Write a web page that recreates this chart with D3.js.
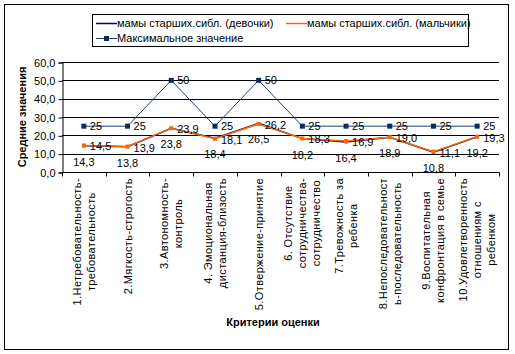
<!doctype html>
<html>
<head>
<meta charset="utf-8">
<style>
    body { margin: 0; background: #fff; }
    svg text { font-family: "Liberation Sans", Arial, sans-serif; font-size: 11px; fill: #000; }
</style>
<script src="https://cdn.jsdelivr.net/npm/d3@7/dist/d3.min.js"></script>
</head>
<body>
<svg width="515" height="354"></svg>
<script>

    // data
    var categories = [
        ["1.Нетребовательность-", "требовательность"],
        ["2.Мягкость-строгость"],
        ["3.Автономность-", "контроль"],
        ["4. Эмоциональная", "дистанция-близость"],
        ["5.Отвержение-принятие"],
        ["6. Отсутствие", "сотрудничества-", "сотрудничество"],
        ["7.Тревожность за", "ребенка"],
        ["8.Непоследовательност", "ь-последовательность"],
        ["9.Воспитательная", "конфронтация в семье"],
        ["10.Удовлетворенность", "отношениям с", "ребенком"]
    ];
    var girls = [14.3, 13.8, 23.8, 18.4, 26.5, 18.2, 16.4, 18.9, 10.8, 19.2];
    var boys  = [14.5, 13.9, 23.9, 18.1, 26.2, 18.3, 16.9, 19.0, 11.1, 19.3];
    var maxVals = [25, 25, 50, 25, 50, 25, 25, 25, 25, 25];
    var yTicks = [0, 10, 20, 30, 40, 50, 60];
    var seriesNames = ["мамы старших.сибл. (девочки)", "мамы старших.сибл. (мальчики)", "Максимальное значение"];

    var svg = d3.select("svg");
    var navy = "#000080", orange = "#FF6600", maxCol = "#1F3D6E";

    // chart border
    svg.append("rect")
       .attr("x", 4.5).attr("y", 4.5)
       .attr("width", 504).attr("height", 345)
       .attr("fill", "#fff").attr("stroke", "#000");

    var idx = d3.range(categories.length);
    var x = d3.scaleBand().domain(idx).range([62, 499]);
    var y = d3.scaleLinear().domain([0, 60]).range([172, 62]);
    var cx = function(i) { return x(i) + x.bandwidth() / 2; };
    var fmt = function(v) { return v.toFixed(1).replace(".", ","); };

    // gridlines
    svg.append("g").selectAll("line")
       .data(yTicks.slice(1))
       .enter().append("line")
       .attr("x1", 62).attr("x2", 499)
       .attr("y1", function(d) { return Math.round(y(d)) + 0.5; })
       .attr("y2", function(d) { return Math.round(y(d)) + 0.5; })
       .attr("stroke", "#000");

    // y axis
    var yAxis = svg.append("g")
       .attr("transform", "translate(62.5,0.5)")
       .call(d3.axisLeft(y).tickValues(yTicks).tickSize(4).tickPadding(3).tickFormat(fmt));
    yAxis.select(".domain").attr("stroke", "#000");
    yAxis.selectAll("text").style("font-size", "11px").attr("font-family", null);

    // x axis
    var xAxis = svg.append("g").attr("transform", "translate(0,172.5)");
    xAxis.append("line").attr("x1", 62).attr("x2", 499.5).attr("stroke", "#000");
    xAxis.selectAll(".tk")
       .data(d3.range(categories.length + 1))
       .enter().append("line")
       .attr("x1", function(i) { return Math.round(62 + i * x.bandwidth()) + 0.5; })
       .attr("x2", function(i) { return Math.round(62 + i * x.bandwidth()) + 0.5; })
       .attr("y1", 0).attr("y2", 4)
       .attr("stroke", "#000");

    // category labels, rotated, lines centered, block top aligned
    var lineGap = 14;
    categories.forEach(function(lines, i) {
        var g = svg.append("g");
        var texts = lines.map(function(t, k) {
            return g.append("text")
                    .attr("text-anchor", "middle")
                    .attr("dominant-baseline", "central")
                    .style("letter-spacing", "0.4px")
                    .text(t);
        });
        var maxLen = d3.max(texts, function(t) { return t.node().getComputedTextLength(); });
        var cy = 178 + maxLen / 2;
        texts.forEach(function(t, k) {
            var lx = cx(i) + (k - (lines.length - 1) / 2) * lineGap;
            t.attr("transform", "translate(" + lx + "," + cy + ") rotate(-90)");
        });
    });

    // axis titles
    svg.append("text")
       .attr("transform", "translate(22,117) rotate(-90)")
       .attr("text-anchor", "middle")
       .attr("dominant-baseline", "central")
       .style("font-weight", "bold")
       .text("Средние значения");

    svg.append("text")
       .attr("x", 273).attr("y", 326)
       .attr("text-anchor", "middle")
       .style("font-weight", "bold")
       .text("Критерии оценки");

    // lines
    var line = d3.line()
        .x(function(d, i) { return cx(i); })
        .y(function(d) { return y(d); });

    function drawSeries(vals, color, width, msize, mcolor) {
        svg.append("path")
           .datum(vals)
           .attr("d", line)
           .attr("fill", "none")
           .attr("stroke", color)
           .attr("stroke-width", width);
        svg.append("g").selectAll("rect")
           .data(vals)
           .enter().append("rect")
           .attr("x", function(d, i) { return cx(i) - msize / 2; })
           .attr("y", function(d) { return y(d) - msize / 2; })
           .attr("width", msize).attr("height", msize)
           .attr("fill", mcolor);
    }

    drawSeries(girls, navy, 1.5, 3, navy);
    drawSeries(boys, orange, 1.5, 4, orange);
    drawSeries(maxVals, maxCol, 1, 5, "#0F2B5B");

    // data labels
    svg.append("g").selectAll("text")
       .data(girls)
       .enter().append("text")
       .attr("x", function(d, i) { return cx(i); })
       .attr("y", function(d) { return y(d) + 20; })
       .attr("text-anchor", "middle")
       .text(fmt);

    svg.append("g").selectAll("text")
       .data(boys)
       .enter().append("text")
       .attr("x", function(d, i) { return cx(i) + 6; })
       .attr("y", function(d) { return y(d) + 1; })
       .attr("dominant-baseline", "central")
       .text(fmt);

    svg.append("g").selectAll("text")
       .data(maxVals)
       .enter().append("text")
       .attr("x", function(d, i) { return cx(i) + 6; })
       .attr("y", function(d) { return y(d) - 0.5; })
       .attr("dominant-baseline", "central")
       .text(function(d) { return d; });

    // legend
    var legend = svg.append("g");
    legend.append("rect")
       .attr("x", 92.5).attr("y", 14.5)
       .attr("width", 376).attr("height", 32)
       .attr("fill", "#fff").attr("stroke", "#000");

    var legItems = [
        { name: seriesNames[0], color: navy, lx: 96, ly: 23, marker: false },
        { name: seriesNames[1], color: orange, lx: 286, ly: 23, marker: false },
        { name: seriesNames[2], color: maxCol, lx: 96, ly: 38, marker: true }
    ];
    legItems.forEach(function(it) {
        legend.append("line")
           .attr("x1", it.lx).attr("x2", it.lx + 21)
           .attr("y1", it.ly + 0.5).attr("y2", it.ly + 0.5)
           .attr("stroke", it.color).attr("stroke-width", it.marker ? 1 : 1.5);
        if (it.marker) {
            legend.append("rect")
               .attr("x", it.lx + 8).attr("y", it.ly - 2)
               .attr("width", 5).attr("height", 5)
               .attr("fill", "#0F2B5B");
        }
        legend.append("text")
           .attr("x", it.lx + 21).attr("y", it.ly)
           .attr("dominant-baseline", "central")
           .text(it.name);
    });

</script>
</body>
</html>
